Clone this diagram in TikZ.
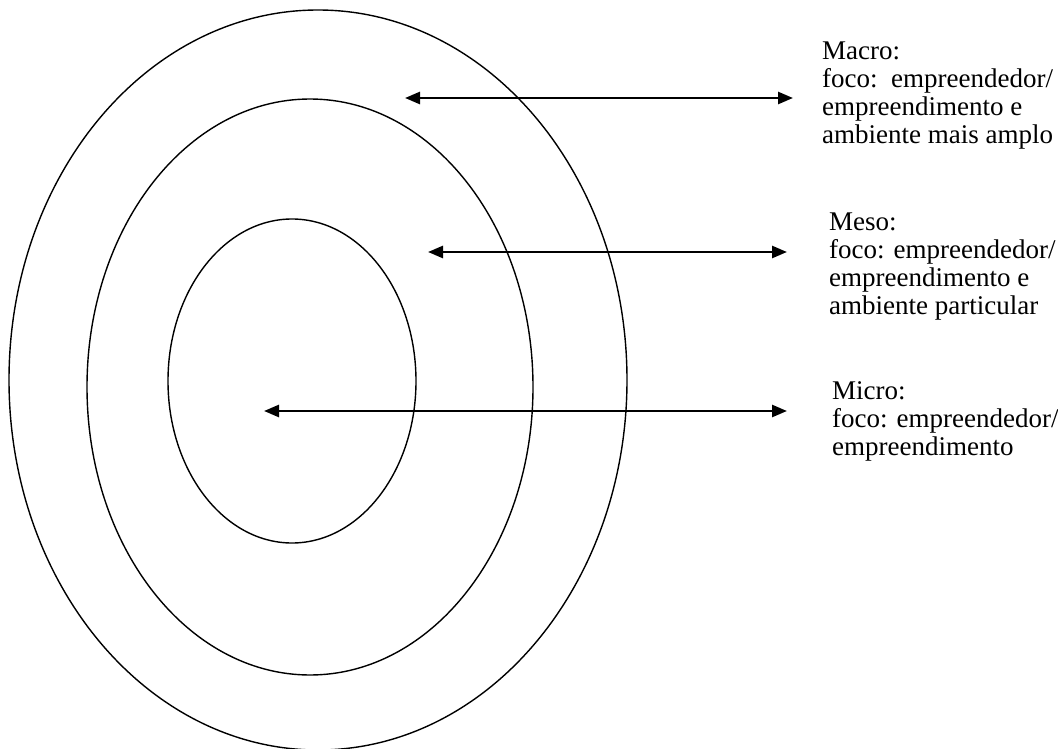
\documentclass[tikz,border=0pt]{standalone}
\usepackage{fontspec}
\setmainfont{Liberation Serif}
\usetikzlibrary{arrows.meta}

\begin{document}
\begin{tikzpicture}[x=1pt,y=-1pt,
  ring/.style={line width=1.4pt},
  link/.style={{Triangle[length=15pt,width=12pt]}-{Triangle[length=15pt,width=12pt]},line width=2.6pt},
  level/.style={anchor=north west,inner sep=0pt,align=left,font=\fontsize{27}{28}\selectfont}]
  \useasboundingbox (0,0) rectangle (1058,749);

  % the three levels
  \draw[ring] (318,380) ellipse [x radius=309pt,y radius=370pt];
  \draw[ring] (310,387) ellipse [x radius=223pt,y radius=288pt];
  \draw[ring] (292,381) ellipse [x radius=124pt,y radius=162pt];

  \node[level] (macro) at (822,42) {Macro:\\foco:\ \ empreendedor/\\empreendimento e\\ambiente mais amplo};
  \node[level] (meso) at (829,213) {Meso:\\foco: empreendedor/\\empreendimento e\\ambiente particular};
  \node[level] (micro) at (832,381) {Micro:\\foco: empreendedor/\\empreendimento};

  \coordinate (macroin) at (405,98);
  \coordinate (macroout) at (793,98);
  \coordinate (mesoin) at (428,252);
  \coordinate (mesoout) at (787,252);
  \coordinate (microin) at (264,411);
  \coordinate (microout) at (787,411);

  \draw[link] (macroin) -- (macroout);
  \draw[link] (mesoin) -- (mesoout);
  \draw[link] (microin) -- (microout);
\end{tikzpicture}
\end{document}
